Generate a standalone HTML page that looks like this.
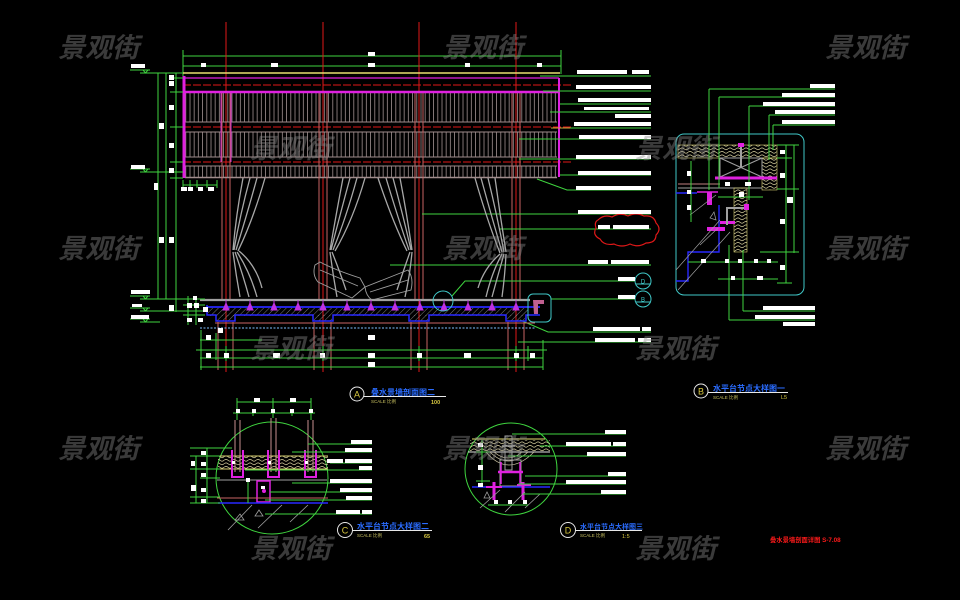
<!DOCTYPE html>
<html><head><meta charset="utf-8">
<style>
html,body{margin:0;padding:0;background:#000;}
svg{display:block;}
.wm{font-family:"Liberation Sans","Noto Sans CJK SC",sans-serif;font-weight:bold;font-style:italic;font-size:27px;fill:#8a8a8a;opacity:0.42;}
.ttl{font-family:"Liberation Sans","Noto Sans CJK SC",sans-serif;font-weight:bold;font-size:8px;fill:#2a6cff;}
.sc{font-family:"Liberation Sans","Noto Sans CJK SC",sans-serif;font-size:4.5px;fill:#c8c060;}
</style></head>
<body>
<svg width="960" height="600" viewBox="0 0 960 600" xmlns="http://www.w3.org/2000/svg">
<defs>
<pattern id="slat" width="4.2" height="10" patternUnits="userSpaceOnUse"><line x1="1" y1="0" x2="1" y2="10" stroke="#a09090" stroke-width="0.8"/></pattern>
<pattern id="wood" width="8" height="3.5" patternUnits="userSpaceOnUse"><path d="M0 1.8 Q2 0 4 1.8 T8 1.8" stroke="#d8d0a0" stroke-width="0.7" fill="none"/></pattern>
<pattern id="hatch" width="4" height="4" patternUnits="userSpaceOnUse" patternTransform="rotate(45)"><line x1="0" y1="0" x2="0" y2="4" stroke="#9a9a9a" stroke-width="0.8"/></pattern>
</defs>
<rect width="960" height="600" fill="#000"/>

<!-- ============ MAIN ELEVATION ============ -->
<g fill="none" stroke-width="1">
<g stroke="#3fd43f">
<line x1="183" y1="56" x2="561" y2="56"/>
<line x1="183" y1="66" x2="561" y2="66"/>
<line x1="183" y1="50" x2="183" y2="78"/>
<line x1="561" y1="50" x2="561" y2="74"/>
<line x1="226" y1="63" x2="226" y2="69"/><line x1="323" y1="53" x2="323" y2="69"/><line x1="419" y1="63" x2="419" y2="69"/><line x1="516" y1="63" x2="516" y2="69"/>
</g>
<g stroke="#e01818">
<line x1="226" y1="22" x2="226" y2="372"/>
<line x1="323" y1="22" x2="323" y2="372"/>
<line x1="419" y1="22" x2="419" y2="372"/>
<line x1="516" y1="22" x2="516" y2="372"/>
<line x1="183" y1="85" x2="571" y2="85" stroke-dasharray="8 2"/>
<line x1="183" y1="127" x2="571" y2="127" stroke-dasharray="8 2"/>
<line x1="183" y1="162" x2="571" y2="162" stroke-dasharray="8 2"/>
</g>
<line x1="183" y1="73" x2="560" y2="73" stroke="#e8e070" stroke-width="1.4"/>
<rect x="185" y="93" width="372" height="29" fill="url(#slat)" stroke="none"/>
<rect x="185" y="132" width="372" height="25" fill="url(#slat)" stroke="none"/>
<rect x="185" y="166" width="372" height="11" fill="url(#slat)" stroke="none"/>
<g stroke="#a08c8c">
<line x1="185" y1="122" x2="557" y2="122"/><line x1="185" y1="132" x2="557" y2="132"/>
<line x1="185" y1="157" x2="557" y2="157"/><line x1="185" y1="166" x2="557" y2="166"/>
<line x1="185" y1="177.5" x2="557" y2="177.5" stroke-width="1.5"/>
</g>
<g stroke="#c86464">
<line x1="222" y1="92" x2="222" y2="300"/><line x1="230" y1="92" x2="230" y2="300"/>
<line x1="319" y1="92" x2="319" y2="300"/><line x1="327" y1="92" x2="327" y2="300"/>
<line x1="415" y1="92" x2="415" y2="300"/><line x1="423" y1="92" x2="423" y2="300"/>
<line x1="512" y1="92" x2="512" y2="300"/><line x1="520" y1="92" x2="520" y2="300"/>
<line x1="218" y1="322" x2="218" y2="370"/><line x1="233" y1="322" x2="233" y2="370"/>
<line x1="314" y1="322" x2="314" y2="370"/><line x1="331" y1="322" x2="331" y2="370"/>
<line x1="411" y1="322" x2="411" y2="370"/><line x1="427" y1="322" x2="427" y2="370"/>
<line x1="508" y1="322" x2="508" y2="370"/><line x1="524" y1="322" x2="524" y2="370"/>
</g>
<line x1="221" y1="92" x2="221" y2="162" stroke="#d030d0"/>
<line x1="231" y1="92" x2="231" y2="162" stroke="#d030d0"/>
<g stroke="#e020e0">
<line x1="183" y1="78" x2="559" y2="78" stroke-width="1.2"/>
<line x1="183" y1="92" x2="559" y2="92" stroke-width="2.5"/>
<line x1="184" y1="76" x2="184" y2="178" stroke-width="3"/>
<line x1="559" y1="78" x2="559" y2="177" stroke-width="2"/>
</g>
<g stroke="#3fd43f">
<line x1="540" y1="76" x2="651" y2="76"/>
<line x1="543" y1="91" x2="651" y2="91"/>
<line x1="560" y1="104" x2="651" y2="104"/>
<line x1="550" y1="112" x2="651" y2="112"/>
<line x1="551" y1="128" x2="651" y2="128"/>
<line x1="519" y1="139" x2="651" y2="139"/>
<line x1="519" y1="159" x2="651" y2="159"/>
<line x1="560" y1="175" x2="651" y2="175"/>
<polyline points="537,179 567,190 651,190"/>
<line x1="422" y1="214" x2="651" y2="214"/>
<line x1="500" y1="229" x2="651" y2="229"/>
<line x1="390" y1="265" x2="651" y2="265"/>
<polyline points="452,296 465,281 635,281"/>
<line x1="551" y1="299" x2="635" y2="299"/>
<polyline points="520,320 548,332 651,332"/>
<line x1="518" y1="342" x2="651" y2="342"/>
</g>
<line x1="551" y1="128" x2="570" y2="128" stroke="#c8b040"/>
<g stroke="#a8a8a8" stroke-width="1.3">
<path d="M243,178 Q236,215 233,250 M250,178 Q240,215 234,250 M257,178 Q246,218 236,250 M265,178 Q253,220 238,251"/>
<path d="M233,252 Q236,275 240,297 M235,252 Q243,275 249,297 M237,252 Q250,272 257,297 M239,251 Q256,265 262,288"/>
<path d="M343,178 Q336,215 330,250 M350,178 Q340,215 331,250 M357,178 Q346,218 333,250 M365,178 Q353,220 335,251"/>
<path d="M330,252 Q333,275 337,297 M332,252 Q340,272 346,290"/>
<path d="M400,178 Q407,215 412,250 M393,178 Q403,215 411,250 M386,178 Q398,218 409,250 M378,178 Q392,220 407,251"/>
<path d="M412,252 Q410,275 405,297 M410,252 Q403,272 397,290"/>
<path d="M495,178 Q500,215 506,252 M488,178 Q497,215 504,252 M481,178 Q492,218 502,252 M475,178 Q487,220 500,253"/>
<path d="M506,254 Q505,275 502,297 M504,254 Q498,275 492,297 M502,254 Q492,272 486,297 M500,254 Q484,268 478,288"/>
</g>
<g stroke="#a0a0a0" stroke-width="0.9">
<path d="M315,265 Q312,275 318,282 L352,298 L365,287 L360,278 Q335,270 320,262 Z"/>
<path d="M365,287 L408,270 Q414,278 411,290 L372,300 Q366,296 365,287 Z"/>
<line x1="320" y1="270" x2="358" y2="286"/><line x1="370" y1="292" x2="408" y2="280"/>
</g>
<!-- floor -->
<line x1="200" y1="300" x2="530" y2="300" stroke="#a0a0a0" stroke-width="2.2"/>
<rect x="208" y="308" width="320" height="8" fill="url(#hatch)" stroke="none"/>
<rect x="217" y="315" width="18" height="6" fill="url(#hatch)" stroke="none"/>
<rect x="314" y="315" width="18" height="6" fill="url(#hatch)" stroke="none"/>
<rect x="410" y="315" width="18" height="6" fill="url(#hatch)" stroke="none"/>
<rect x="507" y="315" width="18" height="6" fill="url(#hatch)" stroke="none"/>
<line x1="207" y1="307" x2="540" y2="307" stroke="#2828ff" stroke-width="1.8"/>
<path d="M207,305 V315 H216 V321 H235 V315 H313 V321 H333 V315 H409 V321 H429 V315 H506 V321 H526 V315 H540" stroke="#2828ff" stroke-width="1.5"/>
<line x1="215" y1="323" x2="535" y2="323" stroke="#c86464"/>
<line x1="200" y1="328" x2="535" y2="328" stroke="#80c0ff" stroke-dasharray="2 1.5"/>
<g fill="#c030e0" stroke="#c030e0">
<path d="M226,300V310M223,310L226,303L229,310Z M250,300V310M247,310L250,303L253,310Z M274,300V310M271,310L274,303L277,310Z M298,300V310M295,310L298,303L301,310Z M323,300V310M320,310L323,303L326,310Z M347,300V310M344,310L347,303L350,310Z M371,300V310M368,310L371,303L374,310Z M395,300V310M392,310L395,303L398,310Z M420,300V310M417,310L420,303L423,310Z M444,300V310M441,310L444,303L447,310Z M468,300V310M465,310L468,303L471,310Z M492,300V310M489,310L492,303L495,310Z M516,300V310M513,310L516,303L519,310Z"/>
</g>
<circle cx="443" cy="301" r="10" stroke="#40c8c8"/>
<rect x="528" y="294" width="23" height="28" rx="5" stroke="#40c8c8"/>
<path d="M533,300 H544 V304 H538 V314 H534 Z" fill="#c06090" stroke="none"/>
<circle cx="643" cy="281" r="8" stroke="#40c8c8"/><line x1="636" y1="284" x2="650" y2="284" stroke="#40c8c8"/>
<circle cx="643" cy="299" r="8" stroke="#40c8c8"/><line x1="636" y1="302" x2="650" y2="302" stroke="#40c8c8"/>
<path d="M598,220 q6,-6 14,-3 q8,-5 16,-1 q8,-4 16,0 q10,-1 12,7 q6,6 0,12 q0,8 -10,8 q-8,5 -16,1 q-8,4 -16,0 q-10,2 -14,-5 q-8,-4 -4,-11 q-2,-6 2,-8 Z" stroke="#e01818" stroke-width="1.2"/>
<g stroke="#3fd43f">
<line x1="158" y1="73" x2="158" y2="299"/>
<line x1="166" y1="73" x2="166" y2="299"/>
<line x1="176" y1="73" x2="176" y2="312"/>
<line x1="140" y1="73" x2="183" y2="73"/>
<line x1="140" y1="172" x2="183" y2="172"/>
<line x1="140" y1="299" x2="205" y2="299"/>
<line x1="170" y1="78" x2="183" y2="78"/><line x1="170" y1="92" x2="183" y2="92"/>
<line x1="170" y1="127" x2="183" y2="127"/><line x1="170" y1="162" x2="183" y2="162"/>
<line x1="170" y1="178" x2="183" y2="178"/>
<line x1="140" y1="311" x2="205" y2="311"/><line x1="140" y1="322" x2="160" y2="322"/>
<line x1="130" y1="70" x2="150" y2="70"/><line x1="130" y1="169" x2="150" y2="169"/>
<line x1="130" y1="296" x2="150" y2="296"/><line x1="130" y1="308" x2="150" y2="308"/><line x1="130" y1="319" x2="150" y2="319"/>
<path d="M143,70 L148,70 L145.5,73 Z M143,169 L148,169 L145.5,172 Z M143,296 L148,296 L145.5,299 Z M143,308 L148,308 L145.5,311 Z M143,319 L148,319 L145.5,322 Z"/>
<line x1="183" y1="185" x2="217" y2="185"/>
<line x1="183" y1="180" x2="183" y2="188"/><line x1="190" y1="180" x2="190" y2="188"/><line x1="197" y1="180" x2="197" y2="188"/><line x1="207" y1="180" x2="207" y2="188"/><line x1="217" y1="180" x2="217" y2="188"/>
<line x1="188" y1="296" x2="188" y2="325"/><line x1="196" y1="296" x2="196" y2="325"/>
<line x1="183" y1="305" x2="205" y2="305"/><line x1="183" y1="315" x2="205" y2="315"/>
<line x1="200" y1="340" x2="262" y2="340"/>
<line x1="196" y1="350" x2="547" y2="350"/>
<line x1="200" y1="358" x2="543" y2="358"/>
<line x1="200" y1="367" x2="543" y2="367"/>
<line x1="201" y1="330" x2="201" y2="370"/><line x1="216" y1="333" x2="216" y2="360"/>
<line x1="226" y1="346" x2="226" y2="361"/><line x1="323" y1="346" x2="323" y2="361"/><line x1="419" y1="346" x2="419" y2="361"/><line x1="516" y1="346" x2="516" y2="361"/>
<line x1="528" y1="346" x2="528" y2="361"/><line x1="543" y1="340" x2="543" y2="370"/>
</g>
</g>
<g fill="#fff">
<rect x="368" y="52" width="7" height="4"/>
<rect x="201" y="63" width="5" height="4"/><rect x="271" y="63" width="7" height="4"/><rect x="368" y="63" width="7" height="4"/><rect x="465" y="63" width="5" height="4"/><rect x="537" y="63" width="5" height="4"/>
<rect x="577" y="70" width="50" height="4"/><rect x="632" y="70" width="17" height="4"/>
<rect x="576" y="85" width="75" height="4"/>
<rect x="578" y="98" width="73" height="4"/>
<rect x="584" y="107" width="65" height="3"/>
<rect x="615" y="114" width="36" height="4"/>
<rect x="574" y="122" width="77" height="4"/>
<rect x="579" y="135" width="72" height="4"/>
<rect x="576" y="155" width="75" height="4"/>
<rect x="578" y="171" width="73" height="4"/>
<rect x="576" y="186" width="75" height="4"/>
<rect x="578" y="210" width="73" height="4"/>
<rect x="598" y="225" width="12" height="4"/><rect x="613" y="225" width="36" height="4"/>
<rect x="588" y="260" width="20" height="4"/><rect x="611" y="260" width="38" height="4"/>
<rect x="618" y="277" width="17" height="4"/>
<rect x="618" y="295" width="17" height="4"/>
<rect x="593" y="327" width="47" height="4"/><rect x="642" y="327" width="9" height="4"/>
<rect x="595" y="338" width="40" height="4"/><rect x="638" y="338" width="13" height="4"/>
<rect x="131" y="64" width="14" height="4"/><rect x="131" y="165" width="14" height="4"/>
<rect x="131" y="290" width="19" height="4"/><rect x="132" y="304" width="10" height="3"/><rect x="131" y="315" width="18" height="4"/>
<rect x="169" y="75" width="5" height="5"/><rect x="169" y="81" width="5" height="5"/><rect x="169" y="105" width="5" height="5"/><rect x="169" y="143" width="5" height="5"/><rect x="169" y="168" width="5" height="5"/><rect x="169" y="237" width="5" height="6"/>
<rect x="159" y="123" width="5" height="6"/><rect x="159" y="237" width="5" height="6"/><rect x="154" y="183" width="4" height="7"/><rect x="169" y="305" width="5" height="6"/>
<rect x="181" y="187" width="6" height="4"/><rect x="188" y="187" width="5" height="4"/><rect x="198" y="187" width="5" height="4"/><rect x="208" y="187" width="6" height="4"/>
<rect x="193" y="296" width="4" height="4"/><rect x="187" y="303" width="5" height="5"/><rect x="194" y="303" width="5" height="5"/><rect x="203" y="307" width="5" height="5"/><rect x="187" y="318" width="5" height="4"/><rect x="198" y="318" width="5" height="4"/>
<rect x="206" y="335" width="5" height="5"/><rect x="218" y="328" width="5" height="5"/>
<rect x="206" y="353" width="5" height="5"/><rect x="224" y="353" width="5" height="5"/><rect x="273" y="353" width="7" height="5"/><rect x="320" y="353" width="5" height="5"/><rect x="368" y="353" width="7" height="5"/><rect x="417" y="353" width="5" height="5"/><rect x="464" y="353" width="7" height="5"/><rect x="514" y="353" width="5" height="5"/><rect x="530" y="353" width="5" height="5"/>
<rect x="368" y="335" width="7" height="5"/><rect x="368" y="362" width="7" height="5"/>
</g>
<text x="643" y="283.5" font-family="Liberation Sans" font-size="6" fill="#40c8c8" text-anchor="middle">D</text>
<text x="643" y="301.5" font-family="Liberation Sans" font-size="6" fill="#40c8c8" text-anchor="middle">B</text>

<!-- ============ DETAIL B ============ -->
<g fill="none" stroke-width="1">
<rect x="676" y="134" width="128" height="161" rx="8" stroke="#40c8c8"/>
<rect x="678" y="145" width="99" height="13" fill="url(#wood)" stroke="#d8d070" stroke-width="0.6"/>
<rect x="762" y="158" width="15" height="32" fill="url(#wood)" stroke="#d8d070" stroke-width="0.6"/>
<rect x="720" y="158" width="42" height="19" stroke="#a0a0a0"/>
<path d="M720,158 L762,177 M762,158 L720,177" stroke="#a0a0a0"/>
<line x1="741" y1="146" x2="741" y2="168" stroke="#a0a0a0" stroke-width="2"/>
<rect x="738" y="143" width="6" height="4" fill="#e020e0" stroke="none"/>
<line x1="715" y1="178" x2="777" y2="178" stroke="#e020e0" stroke-width="3"/>
<line x1="678" y1="188" x2="762" y2="188" stroke="#a0a0a0"/>
<line x1="678" y1="184" x2="720" y2="184" stroke="#c08080"/>
<rect x="734" y="188" width="13" height="64" fill="url(#wood)" stroke="#d8d070" stroke-width="0.6"/>
<path d="M676,193 H697 M719,205 V252 H688 V281 H676" stroke="#2828ff" stroke-width="1.4"/>
<line x1="697" y1="192" x2="718" y2="192" stroke="#e020e0" stroke-width="1.5"/>
<rect x="707" y="192" width="5" height="13" fill="#e020e0" stroke="none"/>
<rect x="707" y="227" width="18" height="4" fill="#e020e0" stroke="none"/>
<rect x="744" y="204" width="5" height="6" fill="#e020e0" stroke="none"/>
<rect x="720" y="221" width="15" height="3" fill="#e020e0" stroke="none"/>
<path d="M727,225 V208 H744" stroke="#a0a0a0" stroke-width="2"/>
<path d="M676,270 L720,220 M678,290 L730,232 M690,215 L716,195 M700,245 L718,228" stroke="#a0a0a0" stroke-width="0.7"/>
<path d="M710,218 L714,212 L716,220 Z" stroke="#a0a0a0" stroke-width="0.7"/>
<g stroke="#3fd43f">
<line x1="786" y1="145" x2="786" y2="283"/><line x1="794" y1="145" x2="794" y2="253"/>
<line x1="777" y1="145" x2="799" y2="145"/><line x1="777" y1="158" x2="792" y2="158"/><line x1="777" y1="189" x2="799" y2="189"/><line x1="760" y1="252" x2="799" y2="252"/><line x1="777" y1="283" x2="792" y2="283"/>
<line x1="688" y1="262" x2="778" y2="262"/><line x1="718" y1="279" x2="778" y2="279"/>
<line x1="691" y1="161" x2="691" y2="222"/>
<line x1="718" y1="197" x2="763" y2="197"/>
<line x1="709" y1="89" x2="835" y2="89"/><line x1="709" y1="89" x2="709" y2="190"/>
<line x1="719" y1="97" x2="835" y2="97"/><line x1="719" y1="97" x2="719" y2="188"/>
<line x1="749" y1="106" x2="835" y2="106"/><line x1="749" y1="106" x2="749" y2="200"/>
<line x1="769" y1="115" x2="835" y2="115"/><line x1="769" y1="115" x2="769" y2="160"/>
<line x1="773" y1="125" x2="835" y2="125"/><line x1="773" y1="125" x2="773" y2="150"/>
<line x1="743" y1="250" x2="743" y2="311"/><line x1="743" y1="311" x2="815" y2="311"/>
<line x1="729" y1="245" x2="729" y2="320"/><line x1="729" y1="320" x2="815" y2="320"/>
</g>
</g>
<g fill="#fff">
<rect x="810" y="84" width="25" height="4"/><rect x="782" y="93" width="53" height="4"/><rect x="763" y="102" width="72" height="4"/><rect x="775" y="110" width="60" height="4"/><rect x="782" y="120" width="53" height="4"/>
<rect x="780" y="150" width="5" height="4"/><rect x="780" y="173" width="5" height="5"/><rect x="787" y="197" width="6" height="6"/><rect x="780" y="219" width="5" height="5"/><rect x="780" y="265" width="5" height="5"/>
<rect x="701" y="259" width="5" height="4"/><rect x="725" y="259" width="4" height="4"/><rect x="738" y="259" width="4" height="4"/><rect x="754" y="259" width="4" height="4"/><rect x="767" y="259" width="4" height="4"/>
<rect x="731" y="276" width="4" height="4"/><rect x="757" y="276" width="6" height="4"/>
<rect x="687" y="171" width="4" height="5"/><rect x="687" y="190" width="4" height="4"/><rect x="687" y="205" width="4" height="5"/>
<rect x="725" y="182" width="5" height="4"/><rect x="745" y="182" width="6" height="4"/><rect x="739" y="192" width="5" height="5"/>
<rect x="763" y="306" width="52" height="4"/><rect x="755" y="315" width="60" height="4"/><rect x="783" y="322" width="32" height="4"/>
</g>

<!-- ============ DETAIL C ============ -->
<g fill="none" stroke-width="1">
<circle cx="272" cy="478" r="56" stroke="#3fd43f"/>
<rect x="218" y="456" width="110" height="13" fill="url(#wood)" stroke="none"/>
<line x1="218" y1="456" x2="328" y2="456" stroke="#d8d070"/><line x1="218" y1="469" x2="328" y2="469" stroke="#d8d070"/>
<g stroke="#c89090">
<line x1="235" y1="420" x2="235" y2="472"/><line x1="240" y1="420" x2="240" y2="472"/>
<line x1="271" y1="418" x2="271" y2="472"/><line x1="276" y1="418" x2="276" y2="472"/>
<line x1="308" y1="420" x2="308" y2="472"/><line x1="313" y1="420" x2="313" y2="472"/>
</g>
<g stroke="#e020e0" stroke-width="2">
<path d="M232,450 V477 H243 V450"/><path d="M268,450 V477 H279 V450"/><path d="M305,450 V477 H316 V450"/>
</g>
<line x1="217" y1="480" x2="327" y2="480" stroke="#a0a0a0"/>
<rect x="257" y="481" width="13" height="21" stroke="#e020e0" stroke-width="1.5"/>
<circle cx="264" cy="491" r="2" fill="#e020e0" stroke="none"/>
<line x1="217" y1="498" x2="328" y2="498" stroke="#c86464"/>
<line x1="218" y1="503" x2="328" y2="503" stroke="#2828ff" stroke-width="1.6"/>
<path d="M228,530 L252,505 M258,528 L282,505 M290,522 L308,505 M235,520 L240,514 L244,520 Z M255,516 L259,510 L263,516 Z" stroke="#a0a0a0" stroke-width="0.8"/>
<g stroke="#3fd43f">
<line x1="237" y1="402" x2="311" y2="402"/><line x1="233" y1="413" x2="315" y2="413"/>
<line x1="237" y1="398" x2="237" y2="420"/><line x1="273" y1="398" x2="273" y2="418"/><line x1="311" y1="398" x2="311" y2="420"/>
<line x1="253" y1="410" x2="253" y2="416"/><line x1="292" y1="410" x2="292" y2="416"/>
<line x1="207" y1="448" x2="207" y2="503"/><line x1="196" y1="456" x2="196" y2="503"/>
<line x1="190" y1="448" x2="232" y2="448"/><line x1="190" y1="456" x2="220" y2="456"/><line x1="190" y1="469" x2="220" y2="469"/><line x1="200" y1="478" x2="220" y2="478"/><line x1="190" y1="497" x2="220" y2="497"/><line x1="190" y1="503" x2="220" y2="503"/>
<line x1="248" y1="480" x2="248" y2="503"/>
<line x1="308" y1="444" x2="372" y2="444"/><line x1="292" y1="452" x2="372" y2="452"/><line x1="330" y1="463" x2="372" y2="463"/><line x1="245" y1="470" x2="372" y2="470"/><line x1="292" y1="483" x2="372" y2="483"/><line x1="270" y1="492" x2="372" y2="492"/><line x1="265" y1="500" x2="372" y2="500"/><line x1="265" y1="514" x2="372" y2="514"/>
</g>
</g>
<g fill="#fff">
<rect x="254" y="398" width="6" height="4"/><rect x="290" y="398" width="6" height="4"/>
<rect x="236" y="409" width="4" height="4"/><rect x="252" y="409" width="4" height="4"/><rect x="271" y="409" width="4" height="4"/><rect x="290" y="409" width="4" height="4"/><rect x="309" y="409" width="4" height="4"/>
<rect x="201" y="451" width="5" height="4"/><rect x="191" y="461" width="4" height="5"/><rect x="201" y="462" width="5" height="4"/><rect x="201" y="473" width="5" height="4"/><rect x="191" y="485" width="5" height="6"/><rect x="201" y="488" width="5" height="4"/><rect x="201" y="499" width="5" height="4"/>
<rect x="232" y="461" width="3" height="3"/><rect x="268" y="461" width="3" height="3"/><rect x="305" y="461" width="3" height="3"/><rect x="246" y="478" width="4" height="4"/><rect x="261" y="486" width="4" height="3"/>
<rect x="351" y="440" width="21" height="4"/><rect x="345" y="448" width="27" height="4"/><rect x="327" y="459" width="16" height="4"/><rect x="345" y="459" width="27" height="4"/><rect x="359" y="466" width="13" height="4"/><rect x="330" y="479" width="42" height="4"/><rect x="340" y="488" width="32" height="4"/><rect x="346" y="496" width="26" height="4"/><rect x="336" y="510" width="24" height="4"/><rect x="362" y="510" width="10" height="4"/>
</g>

<!-- ============ DETAIL D ============ -->
<g fill="none" stroke-width="1">
<circle cx="511" cy="469" r="46" stroke="#3fd43f"/>
<rect x="470" y="440" width="80" height="12" fill="url(#wood)" stroke="none"/>
<line x1="472" y1="439" x2="545" y2="439" stroke="#e8e070"/>
<line x1="468" y1="452" x2="550" y2="452" stroke="#e0e0e0"/>
<path d="M490,452 Q508,470 528,452 M494,452 Q508,464 522,452 M486,452 Q508,478 534,452" stroke="#c8c0a0" stroke-width="0.7"/>
<rect x="505" y="436" width="7" height="34" stroke="#a0a0a0"/>
<line x1="502" y1="446" x2="515" y2="446" stroke="#a0a0a0" stroke-width="1.5"/>
<rect x="500" y="460" width="21" height="26" stroke="#a0a0a0"/>
<line x1="498" y1="472" x2="523" y2="472" stroke="#e020e0" stroke-width="2.5"/>
<line x1="501" y1="462" x2="501" y2="484" stroke="#e020e0" stroke-width="1.5"/>
<line x1="520" y1="462" x2="520" y2="484" stroke="#e020e0" stroke-width="1.5"/>
<line x1="472" y1="487" x2="550" y2="487" stroke="#2828ff" stroke-width="1.6"/>
<line x1="494" y1="482" x2="494" y2="500" stroke="#e020e0" stroke-width="3"/>
<line x1="486" y1="487" x2="502" y2="487" stroke="#e020e0" stroke-width="2"/>
<line x1="523" y1="482" x2="523" y2="500" stroke="#e020e0" stroke-width="3"/>
<line x1="517" y1="485" x2="531" y2="485" stroke="#e020e0" stroke-width="2"/>
<path d="M480,508 L500,490 M505,512 L525,492 M525,508 L540,494 M484,498 L487,492 L490,498 Z" stroke="#a0a0a0" stroke-width="0.8"/>
<g stroke="#3fd43f">
<line x1="482" y1="440" x2="482" y2="486"/>
<line x1="476" y1="452" x2="490" y2="452"/><line x1="476" y1="481" x2="490" y2="481"/>
<line x1="488" y1="505" x2="528" y2="505"/>
<line x1="512" y1="434" x2="626" y2="434"/><line x1="540" y1="446" x2="626" y2="446"/><line x1="508" y1="456" x2="626" y2="456"/><line x1="525" y1="476" x2="626" y2="476"/><line x1="518" y1="484" x2="626" y2="484"/><line x1="523" y1="494" x2="626" y2="494"/>
</g>
</g>
<g fill="#fff">
<rect x="478" y="443" width="5" height="4"/><rect x="478" y="465" width="5" height="5"/><rect x="478" y="483" width="5" height="4"/>
<rect x="494" y="500" width="4" height="4"/><rect x="508" y="500" width="4" height="4"/><rect x="523" y="500" width="4" height="4"/>
<rect x="605" y="430" width="21" height="4"/><rect x="566" y="442" width="45" height="4"/><rect x="613" y="442" width="13" height="4"/><rect x="587" y="452" width="39" height="4"/><rect x="608" y="472" width="18" height="4"/><rect x="566" y="480" width="60" height="4"/><rect x="601" y="490" width="25" height="4"/>
</g>

<!-- ============ TITLES ============ -->
<g font-family="Liberation Sans" fill="none">
<circle cx="357" cy="394" r="7" stroke="#e8e8e8"/>
<text x="357" y="397.5" font-size="9" fill="#d8c840" text-anchor="middle">A</text>
<line x1="364" y1="396.5" x2="446" y2="396.5" stroke="#e8e8e8"/>
<circle cx="701" cy="391" r="7" stroke="#e8e8e8"/>
<text x="701" y="394.5" font-size="9" fill="#d8c840" text-anchor="middle">B</text>
<line x1="708" y1="392.5" x2="788" y2="392.5" stroke="#e8e8e8"/>
<circle cx="345" cy="530" r="7.5" stroke="#e8e8e8"/>
<text x="345" y="533.5" font-size="9" fill="#d8c840" text-anchor="middle">C</text>
<line x1="352" y1="530.5" x2="432" y2="530.5" stroke="#e8e8e8"/>
<circle cx="568" cy="530" r="7.5" stroke="#e8e8e8"/>
<text x="568" y="533.5" font-size="9" fill="#d8c840" text-anchor="middle">D</text>
<line x1="575" y1="530.5" x2="642" y2="530.5" stroke="#e8e8e8"/>
</g>
<text class="ttl" x="371" y="395">叠水景墙剖面图二</text>
<text class="sc" x="371" y="403">SCALE 比例</text>
<text x="431" y="404" font-family="Liberation Sans" font-size="5.5" font-weight="bold" fill="#d8c840">100</text>
<text class="ttl" x="713" y="391">水平台节点大样图一</text>
<text class="sc" x="713" y="399">SCALE 比例</text>
<text x="781" y="399" font-family="Liberation Sans" font-size="5.5" fill="#d8c840">L5</text>
<text class="ttl" x="357" y="529">水平台节点大样图二</text>
<text class="sc" x="357" y="537">SCALE 比例</text>
<text x="424" y="538" font-family="Liberation Sans" font-size="5.5" font-weight="bold" fill="#d8c840">65</text>
<text class="ttl" x="580" y="529" style="font-size:7px">水平台节点大样图三</text>
<text class="sc" x="580" y="537">SCALE 比例</text>
<text x="622" y="538" font-family="Liberation Sans" font-size="5.5" fill="#d8c840">1:5</text>
<text x="770" y="542" font-family="Liberation Sans,Noto Sans CJK SC,sans-serif" font-size="6.3" font-weight="bold" fill="#ff1a1a">叠水景墙剖面详图 S-7.08</text>

<!-- ============ WATERMARKS ============ -->
<g class="wm">
<text x="58" y="57">景观街</text><text x="442" y="57">景观街</text><text x="825" y="57">景观街</text>
<text x="250" y="158">景观街</text><text x="635" y="158">景观街</text>
<text x="58" y="258">景观街</text><text x="442" y="258">景观街</text><text x="825" y="258">景观街</text>
<text x="250" y="358">景观街</text><text x="635" y="358">景观街</text>
<text x="58" y="458">景观街</text><text x="442" y="458">景观街</text><text x="825" y="458">景观街</text>
<text x="250" y="558">景观街</text><text x="635" y="558">景观街</text>
</g>
</svg>
</body></html>
